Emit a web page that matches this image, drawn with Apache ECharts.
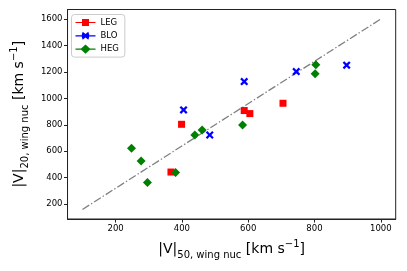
<!DOCTYPE html>
<html><head><meta charset="utf-8">
<script src="https://cdn.jsdelivr.net/npm/echarts@6/dist/echarts.min.js"></script>
<style>html,body{margin:0;padding:0;background:#fff}#c{width:407px;height:271px}</style>
</head><body><div id="c"></div>
<script>
const legX = [367, 399, 588, 605, 705];
const legY = [443, 804, 908, 885, 963];
const bloX = [405, 484, 588, 745, 897];
const bloY = [913, 723, 1127, 1203, 1251];
const hegX = [248, 277, 296, 381, 439, 461, 583, 804, 802];
const hegY = [622, 526, 364, 440, 723, 761, 799, 1254, 1186];
const lineX = [100, 1000];
const lineY = [160, 1600];
const xTicks = [200, 400, 600, 800, 1000];
const yTicks = [200, 400, 600, 800, 1000, 1200, 1400, 1600];

const zip = (a, b) => a.map((v, i) => [v, b[i]]);
const xPath = 'path://M0,2L2,0L5,3L8,0L10,2L7,5L10,8L8,10L5,7L2,10L0,8L3,5Z';
const corners = 'M0,0L0.01,0L0.01,0.01ZM19.99,9.99L20,9.99L20,10Z';
const iconSq = 'path://' + corners + 'M0,4.4L6.5,4.4L6.5,1.5L13.5,1.5L13.5,4.4L20,4.4L20,5.6L13.5,5.6L13.5,8.5L6.5,8.5L6.5,5.6L0,5.6Z';
const iconX = 'path://' + corners + 'M0,4.4L6.6,4.4L6.2,4L7.2,1L10,3.2L12.8,1L13.8,4L13.4,4.4L20,4.4L20,5.6L13.4,5.6L13.8,6L12.8,9L10,6.8L7.2,9L6.2,6L6.6,5.6L0,5.6Z';
const iconD = 'path://' + corners + 'M0,4.4L5.6,4.4L10,0.3L14.4,4.4L20,4.4L20,5.6L14.4,5.6L10,9.7L5.6,5.6L0,5.6Z';

const rich = {
  m: {fontSize: 14, fontFamily: 'DejaVu Sans', color: '#000', lineHeight: 22, verticalAlign: 'middle'},
  s: {fontSize: 10, fontFamily: 'DejaVu Sans', color: '#000', lineHeight: 14, verticalAlign: 'bottom'},
  p: {fontSize: 10, fontFamily: 'DejaVu Sans', color: '#000', lineHeight: 10, padding: [1, 0, 0, 0], verticalAlign: 'top'}
};
const fmt = v => String(v);

const chart = echarts.init(document.getElementById('c'), null, {renderer: 'canvas'});
chart.setOption({
  animation: false,
  backgroundColor: '#fff',
  grid: {left: 66.5, right: 11.3, top: 9.5, bottom: 52, show: true, borderColor: '#222', borderWidth: 1, backgroundColor: 'transparent'},
  legend: {
    left: 71.5, top: 14.5, orient: 'vertical',
    itemWidth: 20, itemHeight: 10, itemGap: 3.3,
    padding: [3, 6, 3, 4],
    borderColor: '#ccc', borderWidth: 1, borderRadius: 3, backgroundColor: 'rgba(255,255,255,0.8)',
    textStyle: {fontSize: 8.5, fontFamily: 'DejaVu Sans', color: '#000', padding: [0, 0, 0, 0]},
    data: [
      {name: 'LEG', icon: iconSq},
      {name: 'BLO', icon: iconX},
      {name: 'HEG', icon: iconD}
    ]
  },
  xAxis: {
    type: 'value', min: 55, max: 1045,
    name: '{m||V|}{s|50, wing nuc}{m| [km s}{p|−1}{m|]}',
    nameLocation: 'middle', nameGap: 19,
    nameTextStyle: {rich: rich},
    axisLine: {show: true, lineStyle: {color: '#222', width: 1}},
    axisTick: {show: true, length: 3.5, lineStyle: {color: '#222'}, customValues: xTicks},
    axisLabel: {fontSize: 8.5, fontFamily: 'DejaVu Sans', color: '#000', margin: 5, customValues: xTicks, formatter: fmt},
    splitLine: {show: false}
  },
  yAxis: {
    type: 'value', min: 88, max: 1672,
    name: '{m||V|}{s|20, wing nuc}{m| [km s}{p|−1}{m|]}',
    nameLocation: 'middle', nameGap: 28, nameRotate: 90,
    nameTextStyle: {rich: rich},
    axisLine: {show: true, lineStyle: {color: '#222', width: 1}},
    axisTick: {show: true, length: 3.5, lineStyle: {color: '#222'}, customValues: yTicks},
    axisLabel: {fontSize: 8.5, fontFamily: 'DejaVu Sans', color: '#000', margin: 5, customValues: yTicks, formatter: fmt},
    splitLine: {show: false}
  },
  series: [
    {type: 'line', data: zip(lineX, lineY), symbol: 'none', silent: true,
     lineStyle: {color: '#808080', width: 1.3, type: [8, 2.2, 1.4, 2.2]}, z: 1},
    {name: 'LEG', type: 'scatter', data: zip(legX, legY), symbol: 'rect', symbolSize: 7,
     itemStyle: {color: '#ff0000', opacity: 1}, z: 2},
    {name: 'BLO', type: 'scatter', data: zip(bloX, bloY), symbol: xPath, symbolSize: 8,
     itemStyle: {color: '#0000ff', opacity: 1}, z: 3},
    {name: 'HEG', type: 'scatter', data: zip(hegX, hegY), symbol: 'diamond', symbolSize: [9, 9],
     itemStyle: {color: '#008000', opacity: 1}, z: 4}
  ]
});
</script>
</body></html>
